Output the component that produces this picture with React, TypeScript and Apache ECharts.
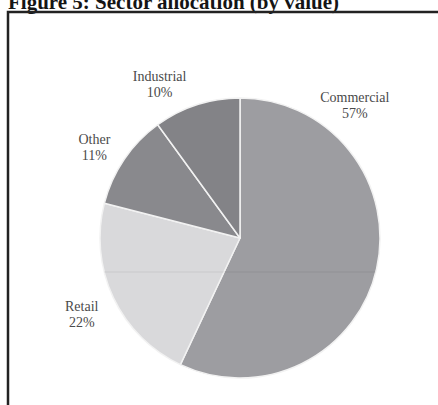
import React, { useEffect, useRef } from "react";
import * as echarts from "echarts";

const titleText = "Figure 5: Sector allocation (by value)";
const sectors = ["Commercial", "Retail", "Other", "Industrial"];
const shares = [57, 22, 11, 10];
const sectorColors = ["#9d9da1", "#d9d9db", "#89898d", "#838387"];
const labelOffsets = [[-57, -171], [1, 2], [0, 8], [-26, 14]];

export default function App() {
  const ref = useRef<HTMLDivElement>(null);
  useEffect(() => {
    if (!ref.current) return;
    const chart = echarts.init(ref.current, undefined, { renderer: "svg" });
    const data = sectors.map((name, i) => ({
      name,
      value: shares[i],
      itemStyle: { color: sectorColors[i] },
    }));
    const labelData = sectors.map((name, i) => ({
      name,
      value: shares[i],
      label: { offset: labelOffsets[i] },
    }));
    chart.setOption({
      animation: false,
      backgroundColor: "#ffffff",
      title: {
        text: titleText,
        left: 3,
        top: -14,
        textStyle: {
          fontFamily: "Liberation Serif",
          fontWeight: "bold",
          fontSize: 21,
          color: "#151515",
        },
      },
      graphic: [
        {
          type: "polyline",
          shape: { points: [[8, 410], [8, 12], [445, 12]] },
          style: { stroke: "#222222", lineWidth: 2.5, fill: null },
          z: 10,
        },
        {
          type: "line",
          shape: { x1: 104, y1: 272, x2: 376, y2: 272 },
          style: { stroke: "rgba(0,0,0,0.07)", lineWidth: 1 },
          z: 10,
        },
      ],
      series: [
        {
          type: "pie",
          center: [240, 238],
          radius: [0, 140],
          startAngle: 90,
          clockwise: true,
          silent: true,
          label: { show: false },
          labelLine: { show: false },
          itemStyle: { borderColor: "#f2f2f2", borderWidth: 1.5 },
          data,
        },
        {
          type: "pie",
          center: [240, 238],
          radius: [150, 196],
          startAngle: 90,
          clockwise: true,
          silent: true,
          itemStyle: { color: "rgba(0,0,0,0)" },
          labelLine: { show: false },
          label: {
            show: true,
            position: "inside",
            formatter: (p: any) => `${p.name}\n${p.value}%`,
            fontFamily: "Liberation Serif",
            fontSize: 14,
            lineHeight: 16,
            color: "#4a4a4a",
            align: "center",
          },
          data: labelData,
        },
      ],
    });
    return () => chart.dispose();
  }, []);
  return (
    <div
      ref={ref}
      style={{ position: "absolute", left: 0, top: 0, width: 438, height: 405 }}
    />
  );
}
